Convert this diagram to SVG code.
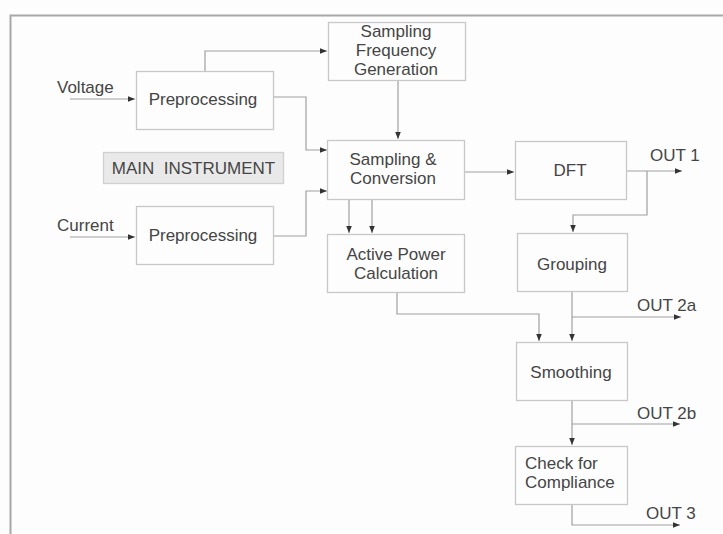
<svg xmlns="http://www.w3.org/2000/svg" width="723" height="534" viewBox="0 0 723 534">
<style>
.box{fill:#fdfdfd;stroke:#c8c8c8;stroke-width:1.3}
.t{font-family:"Liberation Sans",Arial,sans-serif;font-size:17px;fill:#454545}
.c{fill:none;stroke:#a0a0a0;stroke-width:1.2}
</style>
<defs>
<marker id="a" viewBox="0 0 10 10" refX="10" refY="5" markerWidth="7" markerHeight="7" markerUnits="userSpaceOnUse" orient="auto">
<path d="M0,1 L10,5 L0,9 Z" fill="#333"/>
</marker>
</defs>
<rect width="723" height="534" fill="#fdfdfd"/>
<path d="M10.5,534 V15.5 H723" fill="none" stroke="#a8a8a8" stroke-width="2"/>
<g id="connectors">
<path class="c" d="M70,99 H135" marker-end="url(#a)"/>
<path class="c" d="M70,237 H135" marker-end="url(#a)"/>
<path class="c" d="M205,71 V51 H327" marker-end="url(#a)"/>
<path class="c" d="M273,97 H306 V150 H327" marker-end="url(#a)"/>
<path class="c" d="M273,236 H306 V191 H327" marker-end="url(#a)"/>
<path class="c" d="M398,81 V139" marker-end="url(#a)"/>
<path class="c" d="M464,172 H514" marker-end="url(#a)"/>
<path class="c" d="M626,171 H682" marker-end="url(#a)"/>
<path class="c" d="M647,171 V215 H573 V232" marker-end="url(#a)"/>
<path class="c" d="M349,199 V233" marker-end="url(#a)"/>
<path class="c" d="M372,199 V233" marker-end="url(#a)"/>
<path class="c" d="M397,293 V314 H539 V341" marker-end="url(#a)"/>
<path class="c" d="M572,292 V341" marker-end="url(#a)"/>
<path class="c" d="M572,317 H681" marker-end="url(#a)"/>
<path class="c" d="M572,400 V445" marker-end="url(#a)"/>
<path class="c" d="M572,424 H680" marker-end="url(#a)"/>
<path class="c" d="M572,505 V525 H680" marker-end="url(#a)"/>
</g>
<g id="labels">
<text class="t" x="57" y="93">Voltage</text>
<text class="t" x="57" y="231">Current</text>
<text class="t" x="650" y="161">OUT 1</text>
<text class="t" x="637" y="311">OUT 2a</text>
<text class="t" x="637" y="419">OUT 2b</text>
<text class="t" x="646" y="519">OUT 3</text>
</g>
<g id="main-instrument">
<rect x="103.5" y="152.5" width="180" height="31" fill="#e9e9e9" stroke="#d0d0d0" stroke-width="1.3"/>
<text class="t" x="193.5" y="174" text-anchor="middle">MAIN&#160; INSTRUMENT</text>
</g>
<g id="preproc-voltage">
<rect class="box" x="136.5" y="71.5" width="137" height="58"/>
<text class="t" x="203" y="105" text-anchor="middle">Preprocessing</text>
</g>
<g id="preproc-current">
<rect class="box" x="136.5" y="206.5" width="137" height="58"/>
<text class="t" x="203" y="241" text-anchor="middle">Preprocessing</text>
</g>
<g id="sampling-freq">
<rect class="box" x="328.5" y="22.5" width="137" height="58"/>
<text class="t" x="396" y="37" text-anchor="middle">Sampling</text>
<text class="t" x="396" y="56" text-anchor="middle">Frequency</text>
<text class="t" x="396" y="75" text-anchor="middle">Generation</text>
</g>
<g id="sampling-conv">
<rect class="box" x="327.5" y="140.5" width="137" height="59"/>
<text class="t" x="393" y="165" text-anchor="middle">Sampling &amp;</text>
<text class="t" x="393" y="184" text-anchor="middle">Conversion</text>
</g>
<g id="dft">
<rect class="box" x="515.5" y="141.5" width="111" height="58"/>
<text class="t" x="570" y="176" text-anchor="middle">DFT</text>
</g>
<g id="active-power">
<rect class="box" x="327.5" y="234.5" width="137" height="58"/>
<text class="t" x="396" y="260" text-anchor="middle">Active Power</text>
<text class="t" x="396" y="279" text-anchor="middle">Calculation</text>
</g>
<g id="grouping">
<rect class="box" x="517.5" y="233.5" width="110" height="58"/>
<text class="t" x="572" y="270" text-anchor="middle">Grouping</text>
</g>
<g id="smoothing">
<rect class="box" x="516.5" y="342.5" width="111" height="58"/>
<text class="t" x="571" y="378" text-anchor="middle">Smoothing</text>
</g>
<g id="compliance">
<rect class="box" x="515.5" y="446.5" width="112" height="58"/>
<text class="t" x="525" y="469">Check for</text>
<text class="t" x="525" y="488">Compliance</text>
</g>
</svg>
